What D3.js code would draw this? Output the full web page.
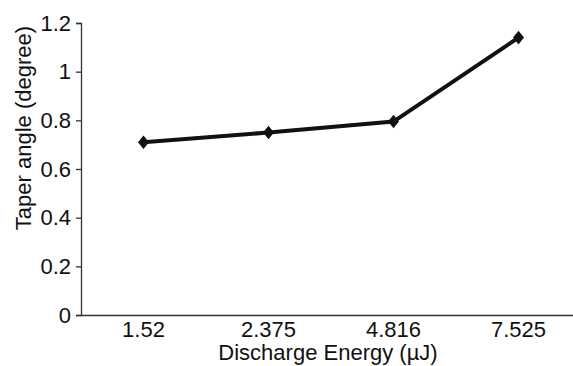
<!DOCTYPE html>
<html>
<head>
<meta charset="utf-8">
<script src="https://cdn.jsdelivr.net/npm/d3@7"></script>
<style>
  body { margin: 0; background: #fff; }
  text { font-family: "Liberation Sans", Arial, sans-serif; }
</style>
</head>
<body>
<script>
const categories = ["1.52", "2.375", "4.816", "7.525"]
const taperAngle = [0.71, 0.75, 0.795, 1.14]
const yTicks = [0, 0.2, 0.4, 0.6, 0.8, 1, 1.2]

const width = 573, height = 366
const margin = { top: 23, right: -8, bottom: 51, left: 81 }
const innerW = width - margin.left - margin.right
const innerH = height - margin.top - margin.bottom

const svg = d3.select("body").append("svg")
    .attr("width", width)
    .attr("height", height)

const g = svg.append("g")
    .attr("transform", "translate(" + margin.left + "," + margin.top + ")")

const x = d3.scaleBand()
    .domain(categories)
    .range([0, innerW])

const y = d3.scaleLinear()
    .domain([0, 1.2])
    .range([innerH, 0])

// y axis
const yAxis = g.append("g")
    .call(d3.axisLeft(y).tickValues(yTicks).tickSize(5).tickPadding(5)
        .tickFormat(d => d3.format("~g")(d)))
yAxis.select(".domain").attr("stroke", "#333").attr("stroke-width", 1.3)
yAxis.selectAll(".tick line").attr("stroke", "#333").attr("stroke-width", 1.3)
yAxis.selectAll("text").attr("font-size", 22).attr("fill", "#111")
    .attr("font-family", "Liberation Sans, Arial, sans-serif")

// x axis, runs off the right edge
const xAxis = g.append("g")
    .attr("transform", "translate(0," + innerH + ")")
    .call(d3.axisBottom(x).tickSize(0).tickPadding(6).tickSizeOuter(0))
xAxis.select(".domain").attr("stroke", "#333").attr("stroke-width", 1.3)
xAxis.selectAll("text").attr("font-size", 22).attr("fill", "#111")
    .attr("font-family", "Liberation Sans, Arial, sans-serif")

// line
const cx = (d, i) => x(categories[i]) + x.bandwidth() / 2
const line = d3.line()
    .x(cx)
    .y(d => y(d))

g.append("path")
    .datum(taperAngle)
    .attr("d", line)
    .attr("fill", "none")
    .attr("stroke", "#111")
    .attr("stroke-width", 4)

g.selectAll(".pt")
    .data(taperAngle)
    .enter().append("path")
    .attr("class", "pt")
    .attr("transform", (d, i) => "translate(" + cx(d, i) + "," + y(d) + ")")
    .attr("d", "M0,-6.8L5.5,0L0,6.8L-5.5,0Z")
    .attr("fill", "#111")

// titles
svg.append("text")
    .attr("x", 328)
    .attr("y", 360)
    .attr("text-anchor", "middle")
    .attr("font-size", 22)
    .attr("fill", "#111")
    .text("Discharge Energy (µJ)")

svg.append("text")
    .attr("transform", "translate(31,128) rotate(-90)")
    .attr("text-anchor", "middle")
    .attr("font-size", 22)
    .attr("fill", "#111")
    .text("Taper angle (degree)")
</script>
</body>
</html>
